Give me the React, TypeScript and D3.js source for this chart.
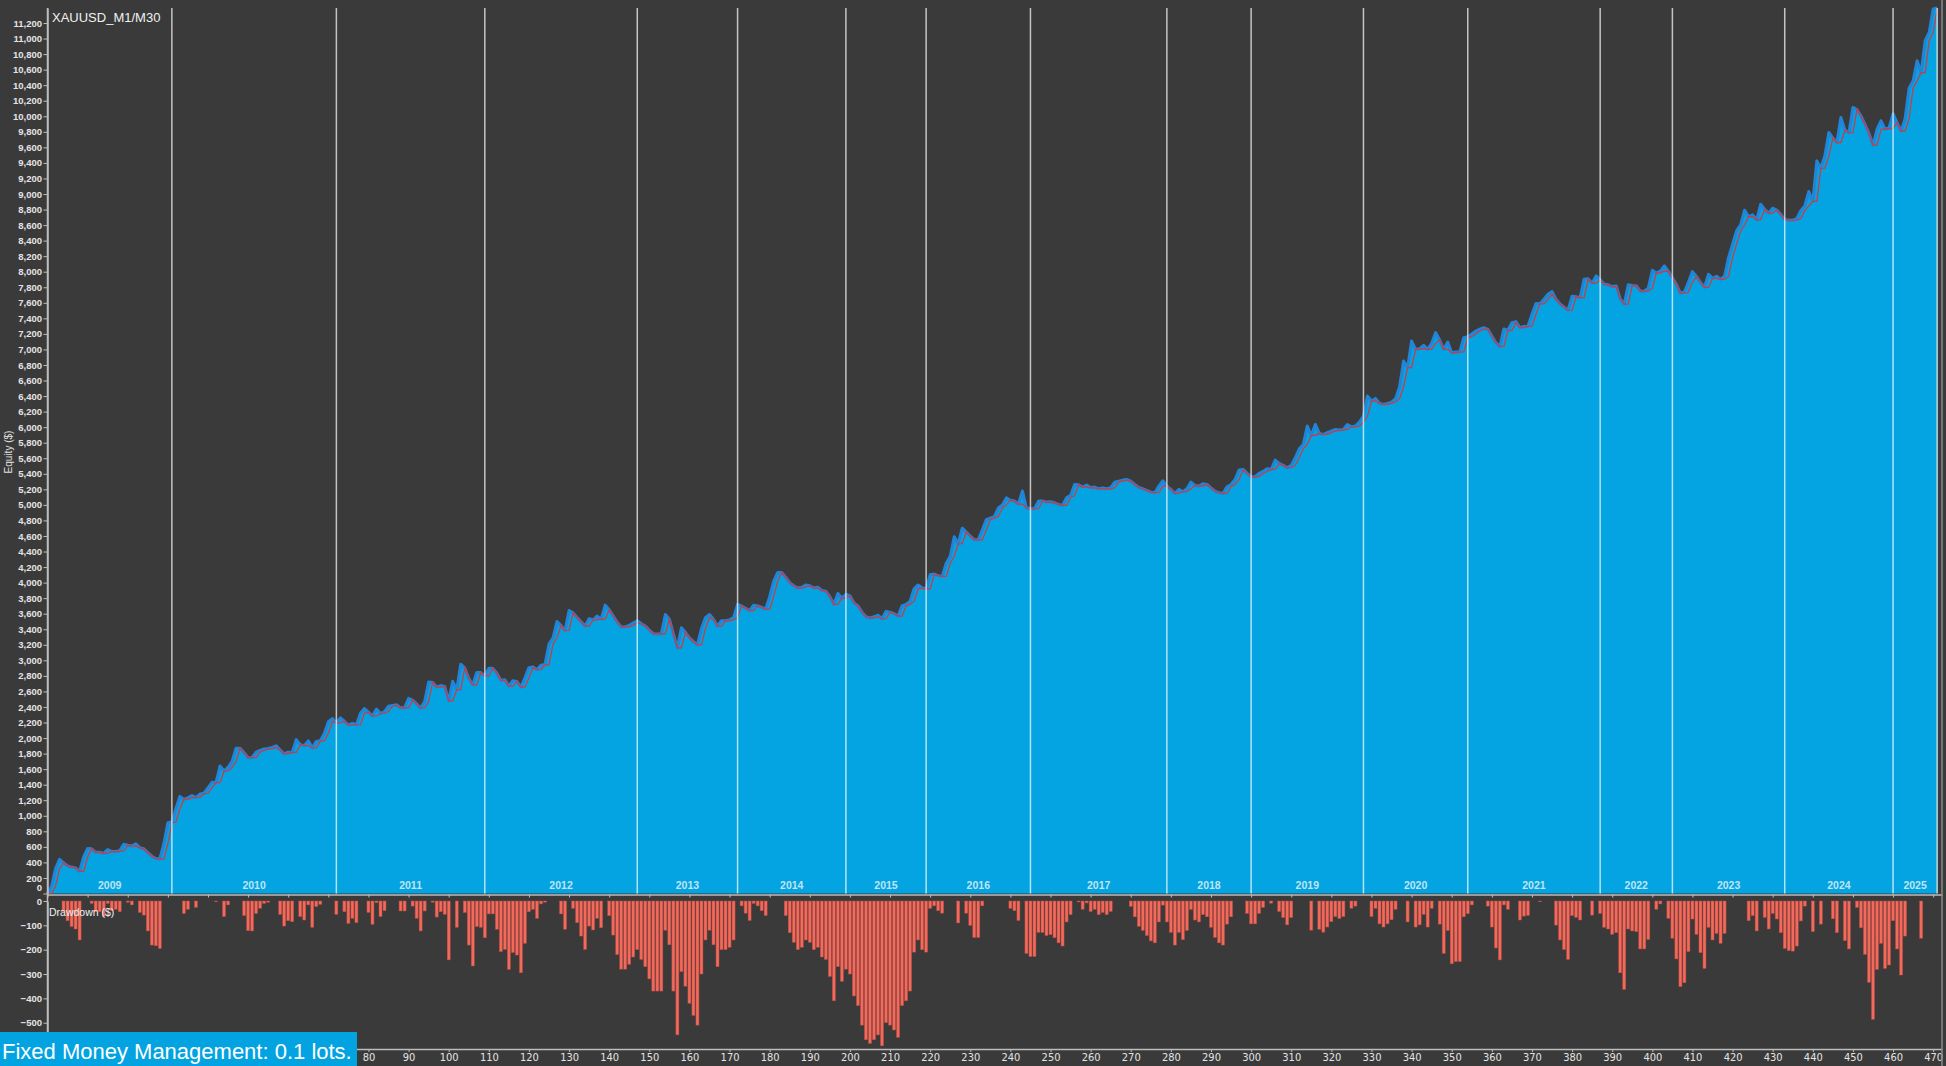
import { useEffect, useRef } from 'react';
import * as d3 from 'd3';

const WIDTH = 1946;
const HEIGHT = 1066;

// equity per point ($), blue area
const equity = [
  0, 90, 320, 440, 395, 355, 340, 330, 285, 470,
  580, 575, 530, 530, 516, 565, 540, 540, 550, 635,
  620, 610, 640, 590, 575, 525, 480, 450, 445, 640,
  910, 920, 1090, 1250, 1210, 1230, 1260, 1235, 1280, 1290,
  1360, 1430, 1427, 1640, 1576, 1624, 1700, 1870, 1870, 1810,
  1748, 1747, 1819, 1840, 1860, 1865, 1880, 1900, 1845, 1797,
  1819, 1815, 1980, 1916, 1902, 1964, 1872, 1957, 1966, 2060,
  2210, 2250, 2195, 2260, 2216, 2168, 2189, 2171, 2320, 2380,
  2333, 2284, 2373, 2316, 2340, 2410, 2420, 2430, 2389, 2389,
  2510, 2489, 2439, 2387, 2469, 2720, 2715, 2654, 2676, 2665,
  2478, 2730, 2622, 2950, 2902, 2769, 2683, 2845, 2842, 2799,
  2897, 2897, 2834, 2742, 2751, 2669, 2738, 2728, 2655, 2776,
  2906, 2916, 2879, 2938, 2945, 3210, 3290, 3500, 3447, 3384,
  3640, 3610, 3551, 3496, 3441, 3537, 3521, 3569, 3530, 3710,
  3650, 3570, 3490, 3430, 3430, 3450, 3480, 3510, 3470, 3440,
  3390, 3340, 3340, 3340, 3590, 3530, 3340, 3160, 3420, 3360,
  3290, 3240, 3200, 3410, 3550, 3590, 3530, 3440, 3510, 3510,
  3520, 3550, 3720, 3700, 3670, 3640, 3710, 3700, 3680, 3660,
  3820, 4020, 4130, 4130, 4070, 4000, 3960, 3930, 3940, 3970,
  3960, 3930, 3940, 3900, 3890, 3820, 3720, 3860, 3800, 3850,
  3830, 3740, 3700, 3620, 3560, 3545, 3560, 3580, 3535, 3630,
  3620, 3600, 3570, 3700, 3720, 3760, 3920, 3970, 3930, 3920,
  4100, 4110, 4090, 4080, 4250, 4340, 4590, 4500, 4700, 4650,
  4600, 4550, 4550, 4680, 4810, 4830, 4850, 4960, 5000, 5090,
  5060, 5050, 5010, 5178, 4963, 4950, 4950, 5049, 5049, 5036,
  5040, 5027, 5006, 4993, 5092, 5122, 5263, 5259, 5229, 5255,
  5220, 5229, 5207, 5216, 5207, 5220, 5293, 5306, 5319, 5328,
  5306, 5263, 5224, 5207, 5186, 5164, 5156, 5242, 5311, 5242,
  5199, 5147, 5199, 5169, 5207, 5293, 5250, 5242, 5272, 5263,
  5220, 5178, 5156, 5147, 5233, 5263, 5328, 5448, 5456, 5405,
  5362, 5362, 5405, 5430, 5465, 5456, 5576, 5533, 5508, 5478,
  5508, 5606, 5722, 5778, 6014, 5894, 6035, 5919, 5907, 5928,
  5950, 5971, 5963, 5971, 6035, 6005, 6014, 6065, 6143, 6400,
  6336, 6370, 6306, 6293, 6306, 6323, 6366, 6520, 6851, 6765,
  7108, 7001, 7010, 7053, 7001, 7078, 7216, 7121, 7001, 7095,
  6958, 6967, 6967, 7151, 7164, 7200, 7237, 7260, 7280, 7259,
  7173, 7087, 7038, 7264, 7246, 7345, 7358, 7280, 7296, 7299,
  7452, 7590, 7587, 7645, 7710, 7744, 7645, 7584, 7545, 7504,
  7684, 7677, 7666, 7903, 7911, 7853, 7946, 7895, 7838, 7831,
  7809, 7816, 7651, 7583, 7831, 7823, 7820, 7749, 7749, 7788,
  8019, 7985, 8007, 8075, 8004, 7922, 7837, 7723, 7739, 7867,
  8001, 7938, 7863, 7798, 7967, 7915, 7942, 7901, 7942, 8182,
  8354, 8525, 8603, 8791, 8710, 8731, 8668, 8868, 8801, 8753,
  8817, 8794, 8738, 8673, 8664, 8662, 8683, 8786, 8847, 9032,
  8906, 9426, 9331, 9491, 9792, 9719, 9662, 9985, 9822, 9788,
  10114, 10087, 10004, 9895, 9780, 9628, 9833, 9940, 9837, 9851,
  10033, 9917, 9810, 9970, 10362, 10457, 10714, 10561, 10972, 11079,
  11380, 11393,
];

// balance ($), red line under the equity edge
const balance = [
  0, 0, 90, 320, 395, 355, 340, 330, 285, 285,
  470, 575, 530, 530, 516, 516, 540, 540, 540, 550,
  620, 610, 610, 590, 575, 525, 480, 450, 445, 445,
  640, 910, 920, 1090, 1210, 1210, 1230, 1235, 1235, 1280,
  1290, 1360, 1427, 1427, 1576, 1576, 1624, 1700, 1870, 1810,
  1748, 1747, 1747, 1819, 1840, 1860, 1865, 1880, 1845, 1797,
  1797, 1815, 1815, 1916, 1902, 1902, 1872, 1872, 1957, 1966,
  2060, 2210, 2195, 2195, 2216, 2168, 2168, 2171, 2171, 2320,
  2333, 2284, 2284, 2316, 2316, 2340, 2410, 2420, 2389, 2389,
  2389, 2489, 2439, 2387, 2387, 2469, 2715, 2654, 2654, 2665,
  2478, 2478, 2622, 2622, 2902, 2769, 2683, 2683, 2842, 2799,
  2799, 2897, 2834, 2742, 2742, 2669, 2669, 2728, 2655, 2655,
  2776, 2906, 2879, 2879, 2938, 2945, 3210, 3290, 3447, 3384,
  3384, 3610, 3551, 3496, 3441, 3441, 3521, 3521, 3530, 3530,
  3650, 3570, 3490, 3430, 3430, 3430, 3450, 3480, 3470, 3440,
  3390, 3340, 3340, 3340, 3340, 3530, 3340, 3160, 3160, 3360,
  3290, 3240, 3200, 3200, 3410, 3550, 3530, 3440, 3440, 3510,
  3510, 3520, 3550, 3700, 3670, 3640, 3640, 3700, 3680, 3660,
  3660, 3820, 4020, 4130, 4070, 4000, 3960, 3930, 3930, 3940,
  3960, 3930, 3930, 3900, 3890, 3820, 3720, 3720, 3800, 3800,
  3830, 3740, 3700, 3620, 3560, 3545, 3545, 3560, 3535, 3535,
  3620, 3600, 3570, 3570, 3700, 3720, 3760, 3920, 3930, 3920,
  3920, 4100, 4090, 4080, 4080, 4250, 4340, 4500, 4500, 4650,
  4600, 4550, 4550, 4550, 4680, 4810, 4830, 4850, 4960, 5000,
  5060, 5050, 5010, 5010, 4963, 4950, 4950, 4950, 5049, 5036,
  5036, 5027, 5006, 4993, 4993, 5092, 5122, 5259, 5229, 5229,
  5220, 5220, 5207, 5207, 5207, 5207, 5220, 5293, 5306, 5319,
  5306, 5263, 5224, 5207, 5186, 5164, 5156, 5156, 5242, 5242,
  5199, 5147, 5147, 5169, 5169, 5207, 5250, 5242, 5242, 5263,
  5220, 5178, 5156, 5147, 5147, 5233, 5263, 5328, 5448, 5405,
  5362, 5362, 5362, 5405, 5430, 5456, 5456, 5533, 5508, 5478,
  5478, 5508, 5606, 5722, 5778, 5894, 5894, 5919, 5907, 5907,
  5928, 5950, 5963, 5963, 5971, 6005, 6005, 6014, 6065, 6143,
  6336, 6336, 6306, 6293, 6293, 6306, 6323, 6366, 6520, 6765,
  6765, 7001, 7001, 7010, 7001, 7001, 7078, 7121, 7001, 7001,
  6958, 6958, 6967, 6967, 7151, 7164, 7200, 7237, 7260, 7259,
  7173, 7087, 7038, 7038, 7246, 7246, 7345, 7280, 7280, 7296,
  7299, 7452, 7587, 7587, 7645, 7710, 7645, 7584, 7545, 7504,
  7504, 7677, 7666, 7666, 7903, 7853, 7853, 7895, 7838, 7831,
  7809, 7809, 7651, 7583, 7583, 7823, 7820, 7749, 7749, 7749,
  7788, 7985, 7985, 8007, 8004, 7922, 7837, 7723, 7723, 7739,
  7867, 7938, 7863, 7798, 7798, 7915, 7915, 7901, 7901, 7942,
  8182, 8354, 8525, 8603, 8710, 8710, 8668, 8668, 8801, 8753,
  8753, 8794, 8738, 8673, 8664, 8662, 8662, 8683, 8786, 8847,
  8906, 8906, 9331, 9331, 9491, 9719, 9662, 9662, 9822, 9788,
  9788, 10087, 10004, 9895, 9780, 9628, 9628, 9833, 9837, 9837,
  9851, 9917, 9810, 9810, 9970, 10362, 10457, 10561, 10561, 10972,
  11079, 11380,
];

// drawdown per point ($)
const drawdown = [
  0, 0, 0, 0, -44, -81, -105, -115, -160, 0,
  0, -10, -44, -44, -64, -10, -40, -34, -44, 0,
  -5, -16, 0, -47, -58, -123, -181, -184, -195, 0,
  0, 0, 0, 0, -51, -34, 0, -26, 0, 0,
  0, 0, -3, 0, -64, -16, 0, 0, 0, -60,
  -122, -123, -51, -30, -10, -5, 0, 0, -55, -103,
  -81, -85, 0, -64, -78, -16, -108, -23, -14, 0,
  0, 0, -55, 0, -44, -92, -71, -89, 0, 0,
  -47, -96, -7, -64, -40, 0, 0, 0, -41, -41,
  0, -21, -71, -123, -41, 0, -5, -66, -44, -55,
  -242, 0, -108, 0, -48, -181, -267, -105, -108, -151,
  -53, -53, -116, -208, -199, -281, -212, -222, -295, -174,
  -44, -34, -71, -12, -5, 0, 0, 0, -53, -116,
  0, -30, -89, -144, -199, -103, -119, -71, -110, 0,
  -60, -140, -220, -280, -280, -260, -230, -200, -240, -270,
  -320, -370, -370, -370, -120, -180, -370, -550, -290, -350,
  -420, -470, -510, -300, -160, -120, -180, -270, -200, -200,
  -190, -160, 0, -20, -50, -80, -10, -20, -40, -60,
  0, 0, 0, 0, -60, -130, -170, -200, -190, -160,
  -170, -200, -190, -230, -240, -310, -410, -270, -330, -280,
  -300, -390, -430, -510, -570, -585, -570, -550, -595, -500,
  -510, -530, -560, -430, -410, -370, -210, -160, -200, -210,
  -30, -20, -40, -50, 0, 0, 0, -90, 0, -50,
  -100, -150, -150, -20, 0, 0, 0, 0, 0, 0,
  -30, -40, -80, 0, -215, -228, -228, -129, -129, -142,
  -138, -151, -172, -185, -86, -56, 0, -4, -34, -8,
  -43, -34, -56, -47, -56, -43, 0, 0, 0, 0,
  -22, -65, -104, -121, -142, -164, -172, -86, -17, -86,
  -129, -181, -129, -159, -121, -35, -78, -86, -56, -65,
  -108, -150, -172, -181, -95, -65, 0, 0, 0, -51,
  -94, -94, -51, -26, 0, -9, 0, -43, -68, -98,
  -68, 0, 0, 0, 0, -120, 0, -116, -128, -107,
  -85, -64, -72, -64, 0, -30, -21, 0, 0, 0,
  -64, -30, -94, -107, -94, -77, -34, 0, 0, -86,
  0, -107, -98, -55, -107, -30, 0, -95, -215, -121,
  -258, -249, -249, -65, -52, -16, 0, 0, 0, -21,
  -107, -193, -242, -16, -34, 0, 0, -78, -62, -59,
  0, 0, -3, 0, 0, 0, -99, -160, -199, -240,
  -60, -67, -78, 0, 0, -58, 0, -51, -108, -115,
  -137, -130, -295, -363, -115, -123, -126, -197, -197, -158,
  0, -34, -12, 0, -71, -153, -238, -352, -336, -208,
  -74, -137, -212, -277, -108, -160, -133, -174, -133, 0,
  0, 0, 0, 0, -81, -60, -123, 0, -67, -115,
  -51, -74, -130, -195, -204, -206, -185, -82, -21, 0,
  -126, 0, -95, 0, 0, -73, -130, 0, -163, -197,
  0, -27, -110, -219, -334, -486, -281, -174, -277, -263,
  -81, -197, -304, -144, 0, 0, 0, -153, 0, 0,
  0, 0,
];

const years = [
  '2009', '2010', '2011', '2012', '2013', '2014', '2015', '2016', '2017',
  '2018', '2019', '2020', '2021', '2022', '2023', '2024', '2025',
];
// point index where each following year begins
const yearStarts = [31, 72, 109, 147, 172, 199, 219, 245, 279, 300, 328, 354, 387, 405, 433, 460, 471];

const equityTicks = d3.range(0, 11201, 200);
const drawdownTicks = [0, -100, -200, -300, -400, -500];
const pointTicks = d3.range(0, 471, 10);
// the tag in the bottom-left corner hides the first point labels
const firstShownPoint = 80;

export default function App() {
  const svgRef = useRef<SVGSVGElement>(null);

  useEffect(() => {
    if (!svgRef.current) return;
    const svg = d3.select(svgRef.current);
    svg.selectAll('*').remove();

    const font = "'Liberation Sans', Arial, sans-serif";
    const left = 47.5;
    const right = 1942;
    const eqTop = 8;
    const eqBottom = 893.5;
    const ddTop = 901;
    const ddBottom = 1049;

    const x = d3.scaleLinear().domain([0, 472.2]).range([left, right]);
    const yEq = d3.scaleLinear().domain([0, d3.max(equity) as number]).range([eqBottom, eqTop]);
    const yDd = d3.scaleLinear().domain([-608, 0]).range([ddBottom, ddTop]);

    svg.append('rect').attr('width', WIDTH).attr('height', HEIGHT).attr('fill', '#3a3a3a');

    // equity area + edge
    const area = d3.area<number>()
      .x((_, i) => x(i))
      .y0(yEq(0))
      .y1(d => yEq(d));
    const line = d3.line<number>()
      .x((_, i) => x(i))
      .y(d => yEq(d));

    svg.append('path').datum(equity).attr('d', area).attr('fill', '#03a4e1');
    svg.append('path').datum(equity)
      .attr('d', line)
      .attr('fill', 'none')
      .attr('stroke', '#2284d6')
      .attr('stroke-width', 3)
      .attr('stroke-linejoin', 'round');
    svg.append('path').datum(balance)
      .attr('d', line)
      .attr('fill', 'none')
      .attr('stroke', '#d4373c')
      .attr('stroke-width', 1.2);

    // year separators and labels
    svg.append('g').selectAll('line')
      .data(yearStarts)
      .enter().append('line')
      .attr('x1', d => x(d)).attr('x2', d => x(d))
      .attr('y1', eqTop).attr('y2', eqBottom)
      .attr('stroke', 'rgba(255,255,255,0.7)')
      .attr('stroke-width', 1.5);

    svg.append('g').selectAll('text')
      .data(years)
      .enter().append('text')
      .attr('x', (_, i) => x(((i === 0 ? 0 : yearStarts[i - 1]) + yearStarts[i]) / 2))
      .attr('y', 888.5)
      .attr('text-anchor', 'middle')
      .attr('font-family', font)
      .attr('font-size', 10.5)
      .attr('font-weight', 'bold')
      .attr('fill', 'rgba(235,245,250,0.82)')
      .text(d => d);

    // drawdown bars
    svg.append('g').selectAll('rect')
      .data(drawdown.map((v, i) => ({ v, i })).filter(d => d.v < 0))
      .enter().append('rect')
      .attr('x', d => x(d.i) - 1.5)
      .attr('y', yDd(0))
      .attr('width', 3)
      .attr('height', d => yDd(d.v) - yDd(0))
      .attr('fill', '#f26a5c')
      .attr('stroke', '#b84a40')
      .attr('stroke-width', 0.5);

    const styleAxis = (g: d3.Selection<SVGGElement, unknown, null, undefined>, size: number) => {
      g.selectAll('.domain').attr('stroke', '#bdbdbd').attr('stroke-width', 1.5);
      g.selectAll('.tick line').attr('stroke', '#bdbdbd');
      g.selectAll('.tick text')
        .attr('fill', '#e4e4e4')
        .attr('font-family', font)
        .attr('font-size', size)
        .attr('font-weight', 'bold');
    };

    // left axes
    const eqAxis = svg.append('g')
      .attr('transform', `translate(${left},0)`)
      .call(d3.axisLeft(yEq).tickValues(equityTicks).tickFormat(d3.format(',')).tickSize(4).tickSizeOuter(0).tickPadding(1.5));
    styleAxis(eqAxis, 9.5);
    eqAxis.selectAll<SVGTextElement, number>('.tick text').filter(d => d === 0).attr('dy', '-0.36em');

    const ddAxis = svg.append('g')
      .attr('transform', `translate(${left},0)`)
      .call(d3.axisLeft(yDd).tickValues(drawdownTicks).tickFormat(d3.format('d')).tickSize(4).tickSizeOuter(0).tickPadding(1.5));
    styleAxis(ddAxis, 9.5);

    svg.append('line')
      .attr('x1', left).attr('x2', left)
      .attr('y1', eqTop).attr('y2', ddBottom)
      .attr('stroke', '#bdbdbd').attr('stroke-width', 1.5);

    // bottom axes
    const eqX = svg.append('g')
      .attr('transform', `translate(0,${eqBottom + 1})`)
      .call(d3.axisBottom(x).tickValues(pointTicks).tickFormat(() => '').tickSize(3).tickSizeOuter(0));
    styleAxis(eqX, 9);

    const ddX = svg.append('g')
      .attr('transform', `translate(0,${ddBottom})`)
      .call(d3.axisBottom(x)
        .tickValues(pointTicks)
        .tickFormat(d => (+d >= firstShownPoint ? String(d) : ''))
        .tickSize(3).tickSizeOuter(0).tickPadding(1));
    styleAxis(ddX, 11);
    ddX.selectAll('.tick text')
      .attr('font-family', "'Liberation Sans Narrow', 'DejaVu Sans Condensed', sans-serif")
      .attr('font-weight', 'normal');

    // right frame
    svg.append('line')
      .attr('x1', right).attr('x2', right)
      .attr('y1', 0).attr('y2', HEIGHT)
      .attr('stroke', '#8a8a8a').attr('stroke-width', 1.5);

    // titles
    svg.append('text')
      .attr('x', 52).attr('y', 22)
      .attr('font-family', font).attr('font-size', 13)
      .attr('fill', '#f0f0f0')
      .text('XAUUSD_M1/M30');

    svg.append('text')
      .attr('transform', 'translate(8,452) rotate(-90)')
      .attr('text-anchor', 'middle')
      .attr('dominant-baseline', 'central')
      .attr('font-family', font).attr('font-size', 10)
      .attr('fill', '#e0e0e0')
      .text('Equity ($)');

    svg.append('text')
      .attr('x', 49).attr('y', 916)
      .attr('font-family', font).attr('font-size', 10.5)
      .attr('fill', '#f0f0f0')
      .text('Drawdown ($)');

    // money management tag
    svg.append('rect')
      .attr('x', 0).attr('y', 1032)
      .attr('width', 357).attr('height', 34)
      .attr('fill', '#03a3e2');
    svg.append('text')
      .attr('x', 2).attr('y', 1059)
      .attr('font-family', font).attr('font-size', 22)
      .attr('fill', '#ffffff')
      .text('Fixed Money Management: 0.1 lots.');
  }, []);

  return (
    <div style={{ position: 'absolute', left: 0, top: 0 }}>
      <svg ref={svgRef} width={WIDTH} height={HEIGHT} style={{ display: 'block' }} />
    </div>
  );
}
